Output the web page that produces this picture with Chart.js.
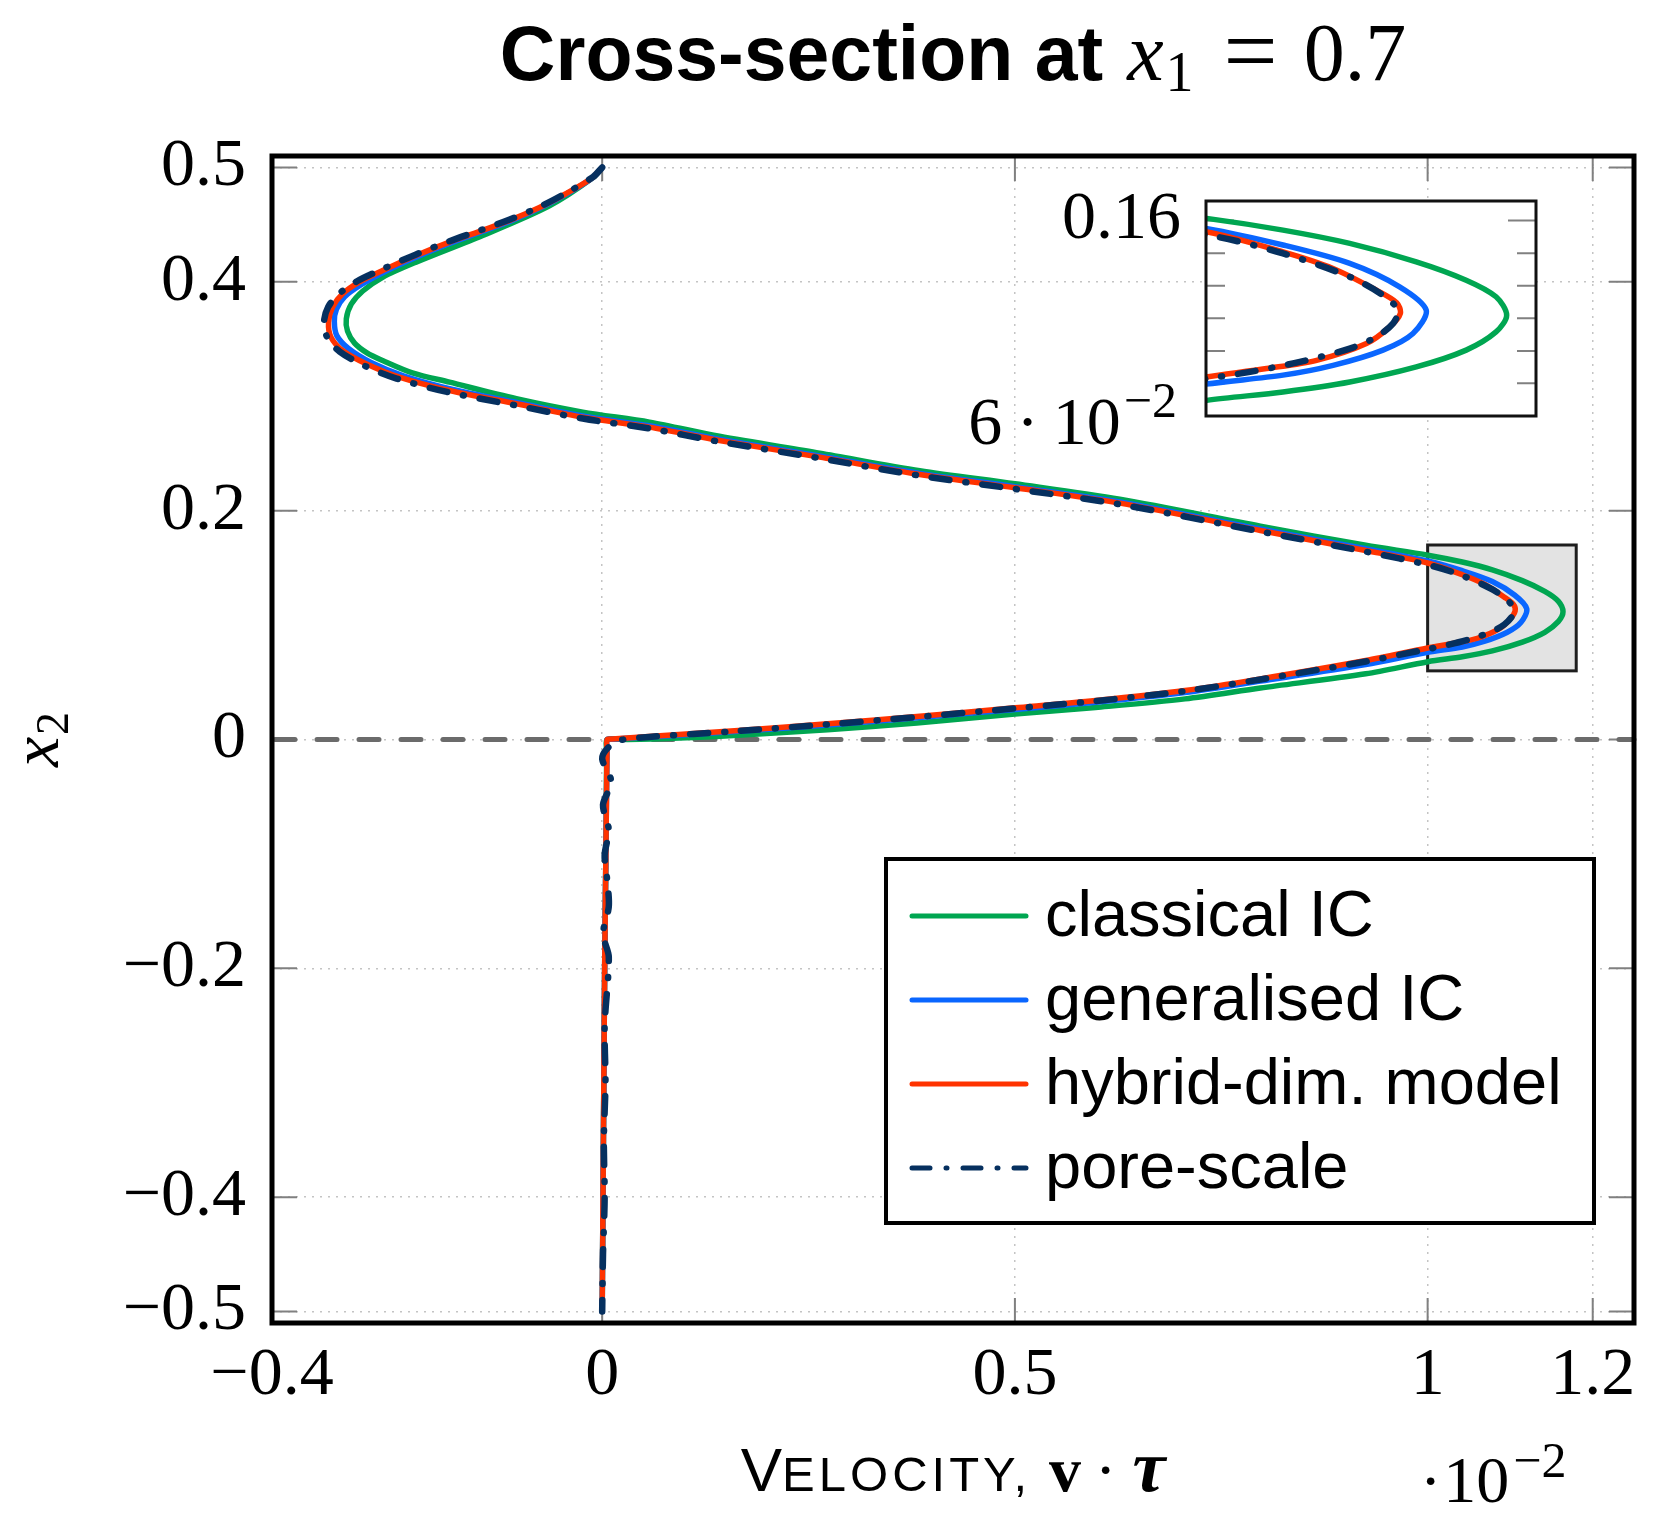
<!DOCTYPE html>
<html lang="en">
<head>
<meta charset="utf-8">
<title>Cross-section at x1 = 0.7</title>
<script src="https://cdn.jsdelivr.net/npm/chart.js"></script>
<style>
  body { margin: 0; background: #fff; overflow: hidden; }
  #wrap { position: relative; width: 1658px; height: 1522px; }
  #main { position: absolute; left: 0; top: 0; }
  #inset { position: absolute; left: 880px; top: 131px; }
</style>
</head>
<body>
<div id="wrap">
  <canvas id="main" width="1658" height="1522"></canvas>
  <canvas id="inset" width="680" height="355"></canvas>
</div>
<script>
// ticks
const xTicks = [-0.4, 0, 0.5, 1, 1.2];
const yTicks = [-0.5, -0.4, -0.2, 0, 0.2, 0.4, 0.5];
const insetYTicks = [0.06, 0.16];
const insetMinorTicks = [0.0767, 0.0933, 0.11, 0.1267, 0.1433];
const zoomBoxX = [1, 1.18];
const zoomBoxY = [0.06, 0.17];
const zeroLineY = 0;

const seriesLabels = ['classical IC', 'generalised IC', 'hybrid-dim. model', 'pore-scale'];

// classical IC
const classicalX = [0, -0.011, -0.0639, -0.1447, -0.2255, -0.266, -0.290, -0.304, -0.310, -0.3085, -0.300, -0.285, -0.266, -0.230, -0.185, -0.104, -0.0235, 0.0573, 0.142, 0.2635, 0.3847, 0.5, 0.627, 0.7974, 0.925, 1.0004, 1.042, 1.0784, 1.1147, 1.1419, 1.1582, 1.164, 1.1582, 1.1419, 1.1147, 1.0784, 1.042, 1.0004, 0.925, 0.7974, 0.706, 0.5977, 0.5, 0.3812, 0.273, 0.1648, 0.1106, 0.06, 0.03, 0.006, 0.0055, 0.0045, 0.003, 0.002, 0.001, 0.0];
const classicalY = [0.5, 0.4912, 0.4665, 0.4406, 0.4172, 0.4040, 0.3920, 0.3805, 0.3677, 0.357, 0.3465, 0.3380, 0.3313, 0.3205, 0.3123, 0.2978, 0.2861, 0.2774, 0.2650, 0.2503, 0.2350, 0.2235, 0.2100, 0.1865, 0.1698, 0.1611, 0.1551, 0.1483, 0.1389, 0.1295, 0.121, 0.1116, 0.103, 0.0937, 0.0851, 0.0774, 0.0723, 0.068, 0.0574, 0.0450, 0.0355, 0.0280, 0.0222, 0.0145, 0.0085, 0.0038, 0.0017, 0.0004, 0.0, 0.0, -0.01, -0.1, -0.2, -0.3, -0.4, -0.5];

// generalised IC
const generalX = [0, -0.011, -0.044, -0.076, -0.112, -0.145, -0.185, -0.2255, -0.266, -0.292, -0.312, -0.322, -0.3245, -0.3215, -0.307, -0.280, -0.240, -0.181, -0.102, -0.0235, 0.0573, 0.142, 0.2635, 0.3847, 0.5, 0.627, 0.7974, 0.925, 1.0, 1.042, 1.0784, 1.1056, 1.1201, 1.1129, 1.0965, 1.0693, 1.042, 1.0, 0.925, 0.7974, 0.706, 0.5977, 0.5, 0.3812, 0.273, 0.1648, 0.0565, 0.012, 0.006, 0.0058, 0.0045, 0.003, 0.002, 0.001, 0.0];
const generalY = [0.5, 0.4912, 0.4765, 0.4643, 0.4528, 0.444, 0.4335, 0.4215, 0.408, 0.3975, 0.387, 0.376, 0.3655, 0.353, 0.3415, 0.3295, 0.3177, 0.306, 0.2943, 0.2827, 0.2742, 0.2625, 0.2478, 0.2326, 0.221, 0.2077, 0.1840, 0.1667, 0.156, 0.1475, 0.1381, 0.1261, 0.1142, 0.1022, 0.0937, 0.0859, 0.0809, 0.0763, 0.0655, 0.051, 0.0410, 0.0325, 0.0263, 0.019, 0.0127, 0.0071, 0.0022, 0.0003, 0.0, -0.01, -0.1, -0.2, -0.3, -0.4, -0.5];

// hybrid-dim. model
const hybridX = [0, -0.011, -0.044, -0.076, -0.112, -0.145, -0.185, -0.2255, -0.266, -0.294, -0.3145, -0.3266, -0.3315, -0.3286, -0.3145, -0.286, -0.2458, -0.185, -0.104, -0.0235, 0.0573, 0.142, 0.2635, 0.3847, 0.5, 0.627, 0.7974, 0.925, 1.0, 1.042, 1.0693, 1.0929, 1.104, 1.106, 1.1002, 1.0875, 1.0603, 1.033, 1.0, 0.925, 0.7974, 0.706, 0.5977, 0.5, 0.3812, 0.273, 0.1648, 0.0565, 0.012, 0.006, 0.0058, 0.0045, 0.003, 0.002, 0.001, 0.0];
const hybridY = [0.5, 0.4915, 0.477, 0.465, 0.4537, 0.445, 0.4347, 0.423, 0.41, 0.40, 0.3896, 0.378, 0.3648, 0.3517, 0.34, 0.3284, 0.3167, 0.305, 0.2934, 0.2817, 0.273, 0.2614, 0.2468, 0.2316, 0.22, 0.2066, 0.1827, 0.1652, 0.1543, 0.144, 0.1355, 0.1244, 0.118, 0.1125, 0.1056, 0.0971, 0.0885, 0.0843, 0.0800, 0.0690, 0.053, 0.0428, 0.0341, 0.0277, 0.0201, 0.0137, 0.0079, 0.0026, 0.0004, 0.0, -0.01, -0.1, -0.2, -0.3, -0.4, -0.5];

// pore-scale
const poreX = [0, -0.011, -0.044, -0.076, -0.112, -0.145, -0.185, -0.2255, -0.266, -0.297, -0.319, -0.332, -0.337, -0.333, -0.318, -0.289, -0.249, -0.188, -0.106, -0.0235, 0.0573, 0.142, 0.2635, 0.3847, 0.5, 0.627, 0.7974, 0.925, 1.0058, 1.042, 1.0784, 1.0965, 1.1047, 1.102, 1.0929, 1.0784, 1.0512, 1.024, 1.0, 0.925, 0.7974, 0.706, 0.5977, 0.5, 0.3812, 0.273, 0.1648, 0.0565, 0.02, 0.006, 0.0, 0.011, 0.001, 0.008, 0.003, 0.006, 0.008, 0.001, 0.008, 0.003, 0.004, 0.002, 0.003, 0.001, 0.0];
const poreY = [0.5, 0.4918, 0.4775, 0.4655, 0.4545, 0.4458, 0.4355, 0.424, 0.4112, 0.4005, 0.3895, 0.378, 0.3648, 0.3512, 0.339, 0.327, 0.3155, 0.3038, 0.2922, 0.2805, 0.2718, 0.2603, 0.2458, 0.2306, 0.219, 0.2056, 0.1818, 0.1642, 0.1517, 0.1432, 0.1312, 0.1218, 0.1142, 0.1073, 0.1005, 0.0945, 0.0877, 0.0826, 0.0790, 0.0682, 0.0525, 0.0423, 0.0336, 0.0272, 0.0196, 0.0132, 0.0074, 0.0022, -0.001, -0.008, -0.017, -0.037, -0.057, -0.079, -0.101, -0.1225, -0.146, -0.17, -0.19, -0.25, -0.3, -0.35, -0.4, -0.45, -0.5];

const SERIF = '"Liberation Serif", "DejaVu Serif", serif';
const SANS = '"Liberation Sans", Arial, sans-serif';

function pts(xs, ys) {
  return xs.map((x, i) => ({ x: x, y: ys[i] }));
}

function makeDatasets() {
  const base = { showLine: true, pointRadius: 0, pointHoverRadius: 0, borderWidth: 5.5, tension: 0.3,
                 borderCapStyle: 'round', borderJoinStyle: 'round', fill: false };
  return [
    Object.assign({}, base, { label: seriesLabels[0], data: pts(classicalX, classicalY), borderColor: '#00a651', order: 4 }),
    Object.assign({}, base, { label: seriesLabels[1], data: pts(generalX, generalY), borderColor: '#0a66ff', order: 3 }),
    Object.assign({}, base, { label: seriesLabels[2], data: pts(hybridX, hybridY), borderColor: '#ff3300', order: 2 }),
    Object.assign({}, base, { label: seriesLabels[3], data: pts(poreX, poreY), borderColor: '#06305f', order: 1,
                              borderWidth: 6.5, borderDash: [18, 16, 1, 16] })
  ];
}

function fmt(v) {
  if (v === 0) return '0';
  return v < 0 ? '\u2212' + String(Math.abs(v)) : String(v);
}

// draws a row of text pieces with different fonts, returns end x
function drawPieces(ctx, pieces, x, y, doDraw) {
  let cx = x;
  pieces.forEach(p => {
    ctx.font = p.f;
    ctx.letterSpacing = p.ls || '0px';
    cx += p.gap || 0;
    if (doDraw) ctx.fillText(p.t, cx, y + (p.dy || 0));
    cx += ctx.measureText(p.t).width;
  });
  ctx.letterSpacing = '0px';
  return cx;
}

function drawCentered(ctx, pieces, cx, y) {
  const w = drawPieces(ctx, pieces, 0, 0, false);
  drawPieces(ctx, pieces, cx - w / 2, y, true);
}

const mainDecor = {
  id: 'mainDecor',
  beforeDatasetsDraw(chart) {
    const { ctx, chartArea: a, scales: { x, y } } = chart;
    ctx.save();
    // tick marks inside the frame
    ctx.strokeStyle = '#808080';
    ctx.lineWidth = 2;
    ctx.beginPath();
    xTicks.forEach(v => {
      const p = x.getPixelForValue(v);
      ctx.moveTo(p, a.top); ctx.lineTo(p, a.top + 25);
      ctx.moveTo(p, a.bottom); ctx.lineTo(p, a.bottom - 25);
    });
    yTicks.forEach(v => {
      const p = y.getPixelForValue(v);
      ctx.moveTo(a.left, p); ctx.lineTo(a.left + 25, p);
      ctx.moveTo(a.right, p); ctx.lineTo(a.right - 25, p);
    });
    ctx.stroke();

    // dashed interface line
    const y0 = y.getPixelForValue(zeroLineY);
    ctx.strokeStyle = '#6b6b6b';
    ctx.lineWidth = 5;
    ctx.lineCap = 'round';
    ctx.setLineDash([20, 22]);
    ctx.beginPath();
    ctx.moveTo(a.left + 3, y0);
    ctx.lineTo(a.right, y0);
    ctx.stroke();
    ctx.setLineDash([]);
    ctx.lineCap = 'butt';

    // zoom box
    const bx0 = x.getPixelForValue(zoomBoxX[0]), bx1 = x.getPixelForValue(zoomBoxX[1]);
    const by0 = y.getPixelForValue(zoomBoxY[1]), by1 = y.getPixelForValue(zoomBoxY[0]);
    ctx.fillStyle = '#e3e3e3';
    ctx.fillRect(bx0, by0, bx1 - bx0, by1 - by0);
    ctx.strokeStyle = '#1e1e1e';
    ctx.lineWidth = 3;
    ctx.strokeRect(bx0, by0, bx1 - bx0, by1 - by0);
    ctx.restore();
  },
  afterDatasetsDraw(chart) {
    const { ctx, chartArea: a } = chart;
    ctx.save();
    ctx.strokeStyle = '#000';
    ctx.lineWidth = 5;
    ctx.strokeRect(a.left, a.top, a.right - a.left, a.bottom - a.top);

    // legend
    const lw = 708, lh = 364;
    const lx = a.right - 40 - lw, ly = a.bottom - 100 - lh;
    ctx.fillStyle = '#fff';
    ctx.fillRect(lx, ly, lw, lh);
    ctx.lineWidth = 4;
    ctx.strokeRect(lx, ly, lw, lh);
    chart.data.datasets.forEach((ds, i) => {
      const ry = ly + 57 + i * 84;
      ctx.strokeStyle = ds.borderColor;
      ctx.lineWidth = 5;
      ctx.lineCap = 'round';
      ctx.setLineDash(ds.borderDash || []);
      ctx.beginPath();
      ctx.moveTo(lx + 26, ry);
      ctx.lineTo(lx + 140, ry);
      ctx.stroke();
      ctx.setLineDash([]);
      ctx.fillStyle = '#000';
      ctx.font = '65px ' + SANS;
      ctx.textBaseline = 'alphabetic';
      ctx.fillText(ds.label, lx + 159, ry + 20);
    });
    ctx.restore();
  },
  afterDraw(chart) {
    const { ctx, chartArea: a } = chart;
    const cx = (a.left + a.right) / 2;
    ctx.save();
    ctx.fillStyle = '#000';
    ctx.textBaseline = 'alphabetic';

    // title
    drawCentered(ctx, [
      { t: 'Cross-section at', f: 'bold 77px ' + SANS },
      { t: 'x', f: 'italic 82px ' + SERIF, gap: 24 },
      { t: '1', f: '56px ' + SERIF, dy: 11, gap: 2 },
      { t: '=', f: '96px ' + SERIF, dy: 3, gap: 30 },
      { t: '0.7', f: '82px ' + SERIF, gap: 26 }
    ], cx, 80);

    // x axis title
    drawCentered(ctx, [
      { t: 'V', f: '62px ' + SANS },
      { t: 'ELOCITY,', f: '49px ' + SANS, ls: '4px' },
      { t: 'v', f: 'bold 64px ' + SERIF, gap: 18 },
      { t: '\u00b7', f: '64px ' + SERIF, gap: 14 },
      { t: '\u03c4', f: 'bold italic 74px ' + SERIF, gap: 16 }
    ], cx, 1491);

    // scale multiplier
    drawPieces(ctx, [
      { t: '\u00b7', f: '64px ' + SERIF },
      { t: '10', f: '66px ' + SERIF, gap: 2 },
      { t: '\u22122', f: '50px ' + SERIF, dy: -25, gap: 4 }
    ], 1420, 1502, true);

    // y axis title
    ctx.translate(58, (a.top + a.bottom) / 2);
    ctx.rotate(-Math.PI / 2);
    drawCentered(ctx, [
      { t: 'x', f: 'italic 68px ' + SERIF },
      { t: '2', f: '46px ' + SERIF, dy: 10, gap: 2 }
    ], 0, 0);
    ctx.restore();
  }
};

const insetDecor = {
  id: 'insetDecor',
  beforeDatasetsDraw(chart) {
    const { ctx, chartArea: a, scales: { y } } = chart;
    ctx.save();
    ctx.fillStyle = '#fff';
    ctx.fillRect(a.left, a.top, a.right - a.left, a.bottom - a.top);
    ctx.strokeStyle = '#808080';
    ctx.lineWidth = 2;
    ctx.beginPath();
    insetYTicks.forEach(v => {
      const p = y.getPixelForValue(v);
      ctx.moveTo(a.left, p); ctx.lineTo(a.left + 28, p);
      ctx.moveTo(a.right, p); ctx.lineTo(a.right - 28, p);
    });
    insetMinorTicks.forEach(v => {
      const p = y.getPixelForValue(v);
      ctx.moveTo(a.left, p); ctx.lineTo(a.left + 19, p);
      ctx.moveTo(a.right, p); ctx.lineTo(a.right - 19, p);
    });
    ctx.stroke();
    ctx.restore();
  },
  afterDatasetsDraw(chart) {
    const { ctx, chartArea: a, scales: { y } } = chart;
    ctx.save();
    ctx.strokeStyle = '#111';
    ctx.lineWidth = 3;
    ctx.strokeRect(a.left, a.top, a.right - a.left, a.bottom - a.top);

    // lower tick label 6·10^-2
    const pieces = [
      { t: '6', f: '68px ' + SERIF },
      { t: '\u00b7', f: '68px ' + SERIF, gap: 14 },
      { t: '10', f: '68px ' + SERIF, gap: 14 },
      { t: '\u22122', f: '50px ' + SERIF, dy: -27, gap: 3 }
    ];
    ctx.fillStyle = '#000';
    ctx.textBaseline = 'alphabetic';
    const w = drawPieces(ctx, pieces, 0, 0, false);
    const right = a.left - 29;
    drawPieces(ctx, pieces, right - w, y.getPixelForValue(insetYTicks[0]) + 28, true);
    ctx.restore();
  }
};

const mainChart = new Chart(document.getElementById('main'), {
  type: 'scatter',
  data: { datasets: makeDatasets() },
  options: {
    responsive: false,
    animation: false,
    events: [],
    layout: { padding: { top: 156, right: 24, bottom: 0, left: 0 } },
    plugins: { legend: { display: false }, title: { display: false }, tooltip: { enabled: false } },
    scales: {
      x: {
        type: 'linear', min: -0.4, max: 1.25,
        afterBuildTicks: s => { s.ticks = xTicks.map(v => ({ value: v })); },
        afterFit: s => { s.height = 199; },
        ticks: { color: '#000', font: { family: SERIF, size: 68 }, padding: 12, callback: fmt,
                 autoSkip: false, maxRotation: 0, minRotation: 0 },
        grid: { color: '#c4c4c4', lineWidth: 1.5, drawTicks: false },
        border: { display: false, dash: [2, 6] }
      },
      y: {
        type: 'linear', min: -0.51, max: 0.51,
        afterBuildTicks: s => { s.ticks = yTicks.map(v => ({ value: v })); },
        afterFit: s => { s.width = 272; },
        ticks: { color: '#000', font: { family: SERIF, size: 68 }, padding: 26, callback: fmt, autoSkip: false },
        grid: { color: '#c4c4c4', lineWidth: 1.5, drawTicks: false },
        border: { display: false, dash: [2, 6] }
      }
    }
  },
  plugins: [mainDecor]
});

const insetChart = new Chart(document.getElementById('inset'), {
  type: 'scatter',
  data: { datasets: makeDatasets() },
  options: {
    responsive: false,
    animation: false,
    events: [],
    layout: { padding: { top: 70, right: 24, bottom: 70, left: 0 } },
    plugins: { legend: { display: false }, title: { display: false }, tooltip: { enabled: false } },
    scales: {
      x: { type: 'linear', min: zoomBoxX[0], max: zoomBoxX[1], display: false },
      y: {
        type: 'linear', min: zoomBoxY[0], max: zoomBoxY[1],
        afterBuildTicks: s => { s.ticks = insetYTicks.map(v => ({ value: v })); },
        afterFit: s => { s.width = 326; },
        ticks: { color: '#000', font: { family: SERIF, size: 68 }, padding: 25, autoSkip: false,
                 callback: v => (v === insetYTicks[1] ? '0.16' : '') },
        grid: { display: false, drawTicks: false },
        border: { display: false }
      }
    }
  },
  plugins: [insetDecor]
});
</script>
</body>
</html>
